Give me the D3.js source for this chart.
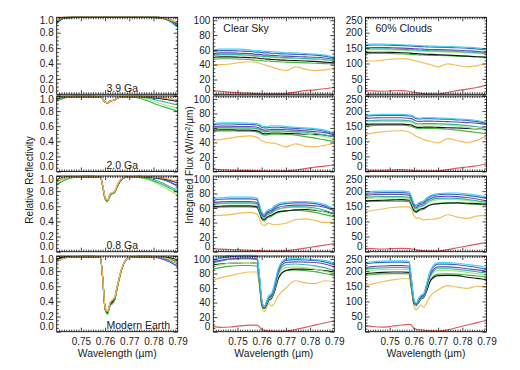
<!DOCTYPE html>
<html>
<head>
<meta charset="utf-8">
<script src="https://cdn.jsdelivr.net/npm/d3@7"></script>
<style>
  body { margin: 0; background: #fff; }
  svg { display: block; font-family: 'Liberation Sans', Arial, sans-serif; }
</style>
</head>
<body>
<script>
// wavelength grid (micron)
const wavelengths = [0.740, 0.743, 0.747, 0.751, 0.755, 0.758, 0.759, 0.760, 0.761, 0.762, 0.763, 0.764, 0.765, 0.767, 0.770, 0.774, 0.778, 0.782, 0.786, 0.790]

// series order: cyan, blue, purple, teal, light green, black, green, orange, red
const seriesNames = ['cyan', 'blue', 'purple', 'teal', 'lightgreen', 'black', 'green', 'orange', 'red']

const ageLabels = ['3.9 Ga', '2.0 Ga', '0.8 Ga', 'Modern Earth']
const columnTitles = ['', 'Clear Sky', '60% Clouds']
const reflTicks = [0, 0.2, 0.4, 0.6, 0.8, 1.0]
const clearTicks = [0, 20, 40, 60, 80, 100]
const cloudTicks = [0, 50, 100, 150, 200, 250]
const wlTicks = [0.75, 0.76, 0.77, 0.78, 0.79]

// relative reflectivity
const refl39 = [
  [0.91, 0.99, 1, 1, 1, 1, 1, 1, 1, 1, 1, 1, 1, 1, 1, 1, 1, 0.995, 0.96, 0.87],
  [0.92, 0.99, 1, 1, 1, 1, 1, 1, 1, 1, 1, 1, 1, 1, 1, 1, 1, 0.995, 0.965, 0.88],
  [0.93, 0.99, 1, 1, 1, 1, 1, 1, 1, 1, 1, 1, 1, 1, 1, 1, 1, 0.995, 0.97, 0.89],
  [0.93, 0.995, 1, 1, 1, 1, 1, 1, 1, 1, 1, 1, 1, 1, 1, 1, 1, 0.995, 0.97, 0.90],
  [0.94, 0.995, 1, 1, 1, 1, 1, 1, 1, 1, 1, 1, 1, 1, 1, 1, 1, 1, 0.975, 0.91],
  [0.94, 0.995, 1, 1, 1, 1, 1, 1, 1, 1, 1, 1, 1, 1, 1, 1, 1, 1, 0.975, 0.91],
  [0.95, 0.995, 1, 1, 1, 1, 1, 1, 1, 1, 1, 1, 1, 1, 1, 1, 1, 1, 0.98, 0.92],
  [0.96, 1, 1, 1, 1, 1, 1, 1, 1, 1, 1, 1, 1, 1, 1, 1, 1, 1, 0.98, 0.93],
  [0.96, 1, 1, 1, 1, 1, 1, 1, 1, 1, 1, 1, 1, 1, 1, 1, 1, 1, 0.98, 0.93]
]
const refl20 = [
  [0.95, 0.98, 0.99, 0.99, 0.99, 0.99, 0.96, 0.92, 0.91, 0.93, 0.94, 0.95, 0.97, 0.99, 0.99, 0.99, 0.98, 0.97, 0.95, 0.92],
  [0.96, 0.98, 0.99, 0.99, 0.99, 0.99, 0.96, 0.92, 0.91, 0.93, 0.94, 0.95, 0.97, 0.99, 0.99, 0.99, 0.985, 0.975, 0.955, 0.93],
  [0.96, 0.985, 0.99, 0.99, 0.99, 0.99, 0.96, 0.92, 0.91, 0.93, 0.94, 0.95, 0.97, 0.99, 0.99, 0.99, 0.99, 0.98, 0.965, 0.94],
  [0.95, 0.98, 0.99, 0.99, 0.99, 0.99, 0.96, 0.92, 0.91, 0.93, 0.94, 0.95, 0.97, 0.99, 0.99, 0.99, 0.97, 0.94, 0.91, 0.88],
  [0.94, 0.975, 0.99, 0.99, 0.99, 0.99, 0.96, 0.92, 0.91, 0.93, 0.94, 0.95, 0.97, 0.99, 0.99, 0.98, 0.95, 0.91, 0.87, 0.84],
  [0.96, 0.985, 0.99, 0.99, 0.99, 0.99, 0.96, 0.92, 0.91, 0.93, 0.94, 0.95, 0.97, 0.99, 0.99, 0.99, 0.985, 0.97, 0.95, 0.93],
  [0.93, 0.97, 0.99, 0.99, 0.99, 0.99, 0.96, 0.92, 0.91, 0.93, 0.94, 0.95, 0.97, 0.99, 0.99, 0.97, 0.93, 0.88, 0.84, 0.80],
  [0.98, 0.99, 0.995, 0.995, 0.995, 0.99, 0.96, 0.92, 0.91, 0.93, 0.94, 0.95, 0.97, 0.99, 0.995, 0.995, 0.99, 0.98, 0.965, 0.94],
  [0.98, 0.99, 0.995, 0.995, 0.995, 0.99, 0.96, 0.92, 0.91, 0.93, 0.94, 0.95, 0.97, 0.99, 0.995, 0.995, 0.99, 0.98, 0.965, 0.94]
]
const refl08 = [
  [0.93, 0.97, 0.99, 0.99, 0.99, 0.99, 0.87, 0.70, 0.67, 0.74, 0.77, 0.79, 0.86, 0.96, 0.99, 0.99, 0.98, 0.96, 0.94, 0.91],
  [0.94, 0.975, 0.99, 0.99, 0.99, 0.99, 0.87, 0.70, 0.67, 0.74, 0.77, 0.79, 0.86, 0.96, 0.99, 0.99, 0.985, 0.97, 0.93, 0.87],
  [0.95, 0.98, 0.99, 0.99, 0.99, 0.99, 0.87, 0.71, 0.67, 0.74, 0.77, 0.79, 0.86, 0.96, 0.99, 0.99, 0.985, 0.97, 0.93, 0.86],
  [0.92, 0.97, 0.99, 0.99, 0.99, 0.99, 0.87, 0.70, 0.67, 0.74, 0.77, 0.79, 0.86, 0.96, 0.99, 0.99, 0.97, 0.93, 0.87, 0.80],
  [0.89, 0.95, 0.98, 0.99, 0.99, 0.99, 0.87, 0.70, 0.67, 0.74, 0.77, 0.79, 0.86, 0.96, 0.99, 0.98, 0.95, 0.89, 0.82, 0.75],
  [0.95, 0.98, 0.99, 0.99, 0.99, 0.99, 0.87, 0.71, 0.67, 0.74, 0.77, 0.79, 0.86, 0.96, 0.99, 0.99, 0.985, 0.975, 0.95, 0.91],
  [0.88, 0.94, 0.98, 0.99, 0.99, 0.99, 0.87, 0.70, 0.66, 0.74, 0.77, 0.79, 0.86, 0.96, 0.99, 0.98, 0.96, 0.91, 0.85, 0.78],
  [0.94, 0.975, 0.99, 0.995, 0.995, 0.99, 0.88, 0.72, 0.68, 0.76, 0.78, 0.80, 0.88, 0.97, 0.99, 0.995, 0.99, 0.98, 0.96, 0.92],
  [0.94, 0.975, 0.99, 0.995, 0.995, 0.99, 0.88, 0.72, 0.68, 0.76, 0.78, 0.80, 0.88, 0.97, 0.99, 0.995, 0.99, 0.98, 0.96, 0.92]
]
const reflModern = [
  [0.95, 0.98, 0.99, 0.99, 0.99, 0.99, 0.71, 0.30, 0.24, 0.35, 0.38, 0.43, 0.58, 0.84, 0.98, 0.99, 0.99, 0.98, 0.94, 0.86],
  [0.96, 0.98, 0.99, 0.99, 0.99, 0.99, 0.71, 0.30, 0.24, 0.35, 0.38, 0.43, 0.58, 0.84, 0.98, 0.99, 0.99, 0.975, 0.93, 0.86],
  [0.95, 0.98, 0.99, 0.99, 0.99, 0.99, 0.71, 0.31, 0.25, 0.36, 0.39, 0.44, 0.59, 0.84, 0.98, 0.99, 0.99, 0.98, 0.95, 0.90],
  [0.94, 0.975, 0.99, 0.99, 0.99, 0.99, 0.71, 0.30, 0.24, 0.35, 0.37, 0.43, 0.58, 0.84, 0.98, 0.99, 0.99, 0.985, 0.96, 0.91],
  [0.93, 0.97, 0.99, 0.99, 0.99, 0.99, 0.71, 0.30, 0.24, 0.35, 0.37, 0.43, 0.58, 0.84, 0.98, 0.99, 0.99, 0.99, 0.97, 0.93],
  [0.96, 0.985, 0.99, 0.99, 0.99, 0.99, 0.71, 0.31, 0.25, 0.36, 0.39, 0.44, 0.59, 0.84, 0.98, 0.99, 0.99, 0.99, 0.98, 0.95],
  [0.92, 0.97, 0.99, 0.99, 0.99, 0.99, 0.71, 0.30, 0.23, 0.34, 0.37, 0.42, 0.57, 0.84, 0.98, 0.99, 0.99, 0.99, 0.97, 0.92],
  [0.92, 0.97, 0.99, 0.995, 0.995, 0.99, 0.72, 0.32, 0.27, 0.38, 0.42, 0.46, 0.60, 0.85, 0.98, 0.995, 0.995, 0.99, 0.96, 0.90],
  [0.92, 0.97, 0.99, 0.995, 0.995, 0.99, 0.72, 0.32, 0.27, 0.38, 0.42, 0.46, 0.60, 0.85, 0.98, 0.995, 0.995, 0.99, 0.96, 0.90]
]

// integrated flux, clear sky
const clear39 = [
  [60, 61, 61, 61, 60, 59, 59, 58.5, 58, 58, 58, 57.5, 57.5, 57, 56, 56, 55, 54.5, 53, 50],
  [58, 59, 59, 58.5, 58, 57, 57, 56.5, 56, 56, 56, 55.5, 55.5, 55, 54.5, 54, 53.5, 53, 51.5, 48.5],
  [55, 56, 56, 55.5, 55, 54, 54, 53.5, 53, 53, 53, 52.5, 52.5, 52, 51.5, 51, 50.5, 50, 49, 47],
  [53, 54, 54, 53.5, 53, 52, 52, 51.5, 51, 51, 51, 50.5, 50.5, 50, 49.5, 49, 48.5, 48, 47, 45],
  [52, 53, 53, 52.5, 52, 51, 51, 50.5, 50, 50, 50, 49.5, 49.5, 49, 48.5, 48, 47.5, 47, 46, 44.5],
  [50, 50.5, 50.5, 50, 49.5, 49, 48.5, 48, 48, 47.5, 47.5, 47, 47, 46.5, 46, 45.5, 45, 44.5, 43.5, 42.5],
  [47, 48, 48, 47.5, 47, 46, 46, 45.5, 45, 45, 45, 44.5, 44.5, 44, 43.5, 43, 42.5, 42, 41.5, 41],
  [40, 40, 41, 43, 44, 43, 42, 41, 40, 39, 38, 37, 36, 34, 32, 37, 34, 32, 33, 35],
  [5, 4, 3, 2, 1.5, 1, 1, 0.5, 0.5, 0.5, 0.5, 0.5, 0.5, 0.5, 1, 3, 5, 6, 7.5, 9.5]
]
const clear20 = [
  [66, 67, 67, 67, 66.5, 66, 65, 63, 62, 62, 62.5, 63, 63, 63, 62, 61, 60, 59, 57, 53],
  [65, 65.5, 65.5, 65, 65, 64, 63, 61, 60, 60, 60.5, 61, 61, 61, 60, 59.5, 58.5, 57.5, 55.5, 52],
  [62, 62.5, 62.5, 62, 62, 61, 60, 58, 57, 57, 57.5, 58, 58, 58, 57.5, 57, 56, 55, 53.5, 50.5],
  [60, 60.5, 60.5, 60, 60, 59, 58, 56, 55, 55, 55.5, 56, 56, 56, 55.5, 55, 54, 52.5, 50.5, 48],
  [59, 59.5, 59.5, 59, 59, 58, 57, 55, 54, 54, 54.5, 55, 55, 55, 54.5, 54, 52, 50, 48, 45.5],
  [57, 57.5, 57.5, 57, 57, 56, 55, 53, 52, 52, 52.5, 53, 53, 53, 52.5, 52, 51.5, 51, 50, 48],
  [55.5, 56, 56, 55.5, 55.5, 54.5, 53.5, 51.5, 50.5, 50.5, 51, 51.5, 51.5, 51.5, 51, 50, 48, 46, 43.5, 41.5],
  [43, 44, 46, 48, 49, 47, 45, 42, 41, 40, 40, 39, 39, 37, 34, 38, 35, 34, 36, 39],
  [3, 2.5, 2, 1.5, 1.5, 1, 1, 1, 0.5, 0.5, 0.5, 0.5, 0.5, 0.5, 1, 2, 4, 6, 7.5, 9]
]
const clear08 = [
  [73, 74, 75, 75, 75, 74, 66, 55, 52, 56, 58, 59, 62, 66, 68, 69, 69, 68, 65, 58],
  [70.5, 72, 72.5, 72.5, 72.5, 71.5, 64, 53, 50, 54, 56, 57, 60, 64, 66, 67, 67, 66, 63, 57],
  [67, 68.5, 69, 69, 69, 68, 61, 51, 48, 52, 54, 55, 58, 61, 63, 64, 64, 63, 61, 56],
  [65, 66.5, 67, 67, 67, 66, 59, 49.5, 46.5, 50.5, 52, 53, 56, 59, 61, 62, 61.5, 60, 57, 52],
  [64, 65.5, 66, 66, 66, 65, 58, 49, 46, 50, 51.5, 52.5, 55, 58, 60, 61, 60, 58, 54.5, 49.5],
  [62, 62.5, 63, 63, 63, 62, 56, 46, 44, 47, 49, 50, 52, 55, 56, 57.5, 58, 57, 55, 52],
  [60, 61, 61.5, 61.5, 61.5, 60.5, 54, 45, 42, 46, 47.5, 48.5, 51, 54, 56, 57, 56, 54, 51, 48],
  [50, 50, 51, 53, 54, 52, 46, 38, 36, 38, 39, 38, 37, 37.5, 39, 44, 45, 43, 40, 41],
  [4, 3.5, 3, 2.5, 2, 1.5, 1.5, 1.5, 1, 1, 1, 1, 1, 1, 1.5, 3, 5, 7, 9, 11]
]
const clearModern = [
  [99, 102, 105, 106, 106, 105, 80, 45, 34, 42, 50, 52, 62, 88, 100, 101, 100, 99, 98, 94],
  [98, 101, 103, 104, 104, 103, 78, 44, 33, 41, 48, 50, 60, 86, 98, 99, 98.5, 98, 96, 92],
  [96, 98, 100, 101, 101, 100, 76, 43, 33, 40, 47, 49, 58, 83, 95, 96, 95.5, 95, 93, 89],
  [95, 97, 99.5, 100, 100, 99, 75, 42, 34, 40, 46, 48, 57, 81, 92, 93, 92, 90.5, 88, 84],
  [90, 92, 94, 95, 95, 94, 72, 41, 33, 39, 45, 47, 55, 78, 88, 89, 88, 86, 83, 80],
  [92, 93, 94, 94.5, 95, 94, 71, 38, 32, 37, 44, 46, 53, 74, 84, 86, 86, 85.5, 84, 82],
  [86, 88, 90, 91, 91, 90, 69, 39, 32, 37, 43, 45, 52, 74, 84, 85, 84, 82.5, 80, 77],
  [71, 74, 77, 80, 82, 82, 63, 34, 27.5, 33, 39, 35, 38, 50, 60, 70, 67, 66, 70, 69],
  [7, 6, 6.5, 8, 9, 9, 7, 3, 2, 1.5, 1, 1, 0.5, 0.5, 1, 3, 6, 9, 12, 15]
]

// integrated flux, 60% clouds
const cloud39 = [
  [162, 163, 163, 162, 161, 160, 159.5, 159, 158.5, 158, 158, 157.5, 157, 156.5, 156, 155, 154, 152.5, 150.5, 147],
  [159, 160, 160, 159, 158, 157, 156.5, 156, 155.5, 155, 155, 154.5, 154, 153.5, 153, 152, 151, 149.5, 147.5, 144],
  [151, 152, 152, 151, 150, 149, 148.5, 148, 147.5, 147, 147, 146.5, 146, 145.5, 145, 144, 143, 141.5, 139.5, 136],
  [147, 148, 148, 147, 146, 145, 144.5, 144, 143.5, 143, 143, 142.5, 142, 141.5, 141, 140, 139, 137, 135, 132],
  [144, 145, 145, 144, 143, 142, 141.5, 141, 140.5, 140, 140, 139.5, 139, 138.5, 138, 137, 136, 134.5, 132.5, 130],
  [136, 136.5, 136.5, 136, 135, 134, 133, 132.5, 132, 131.5, 131, 130.5, 130, 129.5, 128.5, 127, 125.5, 124, 122, 120],
  [132, 133, 133, 132, 131, 130, 129.5, 129, 128.5, 128, 128, 127.5, 127, 126.5, 126, 125, 124, 123, 122, 121],
  [108, 108, 111, 114, 116, 114, 112, 110, 108, 106, 104, 102, 100, 96, 89, 99, 94, 89, 93, 100],
  [13, 11, 10, 11, 12, 10, 8, 6, 5, 4, 3, 2, 1.5, 1, 1, 6, 12, 17, 22, 30]
]
const cloud20 = [
  [187, 188, 189, 189, 189, 187, 186, 182, 178, 177, 177, 178, 178, 178, 177, 176, 174, 172, 169, 163],
  [184, 185, 186, 186, 186, 184, 183, 179, 175, 174, 174, 175, 175, 175, 174, 173, 171, 169, 166, 160],
  [176, 177, 178, 178, 178, 176, 175, 171, 167, 166, 166, 167, 167, 167, 166, 165, 164, 162, 160, 156],
  [168, 169, 170, 170, 170, 168, 167, 163, 159, 158, 158, 159, 159, 159, 158, 157, 155, 152, 148, 143],
  [164, 165, 166, 166, 166, 164, 163, 159, 155, 154, 154, 155, 155, 155, 154, 153, 150, 146, 141, 136],
  [156, 157, 157, 157, 157, 155, 154, 150, 147, 146, 146, 147, 147, 147, 146, 145, 144, 143, 141, 138],
  [151, 152, 153, 153, 153, 151, 150, 146, 143, 142, 142, 143, 143, 143, 142, 140, 137, 133, 129, 125],
  [123, 127, 131, 134, 135, 131, 127, 121, 116, 113, 110, 106, 103, 100, 95, 109, 102, 96, 103, 118],
  [5, 4, 4, 5, 6, 5, 4, 3, 2.5, 2, 1.5, 1, 1, 1, 2, 6, 11, 15, 19, 25]
]
const cloud08 = [
  [198, 199, 200, 200, 200, 198, 182, 160, 154, 162, 165, 167, 175, 186, 192, 194, 194, 191, 187, 181],
  [193, 194, 195, 195, 195, 193, 178, 157, 151, 158, 161, 163, 171, 182, 188, 190, 189, 186, 182, 176],
  [187, 188, 189, 189, 189, 187, 172, 152, 146, 153, 156, 158, 166, 176, 182, 183, 182, 179, 174, 168],
  [180, 181, 182, 182, 182, 180, 166, 147, 141, 148, 151, 153, 160, 170, 176, 177, 176, 173, 168, 163],
  [176, 177, 178, 178, 178, 176, 162, 144, 138, 145, 148, 150, 157, 166, 172, 173, 172, 169, 164, 160],
  [168, 169, 170, 171, 172, 170, 156, 137, 132, 138, 142, 143, 148, 155, 158, 160, 161, 160, 159, 157],
  [165, 166, 167, 167, 167, 165, 152, 134, 129, 135, 138, 140, 146, 155, 160, 162, 161, 158, 156, 154],
  [132, 136, 141, 146, 148, 148, 140, 120, 110, 112, 108, 105, 106, 107, 110, 122, 114, 110, 118, 121],
  [11, 10, 9, 10, 11, 10, 9, 8, 6, 5, 4, 3, 2, 2, 2, 7, 13, 19, 25, 30]
]
const cloudModern = [
  [228, 231, 233, 234, 234, 233, 175, 108, 94, 110, 121, 125, 150, 205, 228, 228, 226, 222, 218, 212],
  [224, 227, 229, 230, 230, 229, 172, 106, 93, 108, 119, 123, 147, 201, 223, 223, 221, 217, 212, 205],
  [212, 215, 217, 218, 218, 217, 163, 102, 91, 105, 115, 119, 142, 193, 214, 214, 212, 208, 204, 199],
  [206, 209, 211, 212, 212, 211, 159, 100, 90, 103, 113, 117, 139, 188, 208, 208, 206, 202, 198, 194],
  [200, 203, 205, 206, 206, 205, 155, 98, 89, 101, 111, 115, 136, 183, 202, 202, 200, 196, 192, 188],
  [192, 194, 196, 197, 197, 196, 148, 94, 88, 98, 110, 113, 130, 170, 185, 186, 185, 180, 176, 172],
  [186, 189, 191, 192, 192, 191, 144, 93, 87, 97, 108, 112, 129, 172, 190, 191, 190, 187, 184, 182],
  [152, 158, 165, 171, 175, 175, 135, 85, 72, 80, 88, 80, 92, 120, 138, 152, 147, 143, 150, 147],
  [20, 17, 15, 18, 22, 24, 22, 10, 8, 7, 6, 5, 4, 3, 2, 6, 14, 22, 30, 37]
]

const lineColors = ['#46d2ee', '#2f66d0', '#6a48a6', '#35b5a5', '#a6e67e', '#161616', '#45b345', '#f2bd58', '#e05a5a']

const colX = [56.7, 213.3, 365.5]
const panelW = 121
const rowTop = [17.3, 96, 176, 256]
const rowBottom = [94.3, 171.5, 251.7, 331.7]

const columns = [
  { rows: [refl39, refl20, refl08, reflModern], domain: [0, 1], ticks: reflTicks, minorStep: 0.05, fmt: d3.format('.1f'), order: [0, 1, 2, 3, 4, 5, 6, 8, 7] },
  { rows: [clear39, clear20, clear08, clearModern], domain: [0, 104], ticks: clearTicks, minorStep: 5, fmt: d3.format('d'), order: [8, 7, 6, 5, 4, 3, 2, 1, 0] },
  { rows: [cloud39, cloud20, cloud08, cloudModern], domain: [0, 250], ticks: cloudTicks, minorStep: 10, fmt: d3.format('d'), order: [8, 7, 6, 5, 4, 3, 2, 1, 0] }
]

const svg = d3.select('body').append('svg')
    .attr('width', 520)
    .attr('height', 370)

svg.append('rect').attr('width', 520).attr('height', 370).attr('fill', '#fff')
const defs = svg.append('defs')

const wlMinor = d3.range(741, 790).filter(v => v % 10 != 0).map(v => v / 1000)

columns.forEach((col, c) => {
    const x = d3.scaleLinear().domain([0.74, 0.79]).range([colX[c], colX[c] + panelW])
    const minor = d3.range(col.domain[0], col.domain[1] + 1e-9, col.minorStep)
        .filter(v => !col.ticks.some(t => Math.abs(t - v) < 1e-9))

    col.rows.forEach((series, r) => {
        const y = d3.scaleLinear().domain(col.domain).range([rowBottom[r], rowTop[r]])
        const id = 'clip-' + c + '-' + r
        defs.append('clipPath').attr('id', id)
            .append('rect')
            .attr('x', colX[c] - 1)
            .attr('y', rowTop[r] - 1.2)
            .attr('width', panelW + 2)
            .attr('height', rowBottom[r] - rowTop[r] + 2.4)

        const line = d3.line()
            .x((d, i) => x(wavelengths[i]))
            .y(d => y(d))
            .curve(d3.curveMonotoneX)

        svg.append('g')
            .attr('clip-path', 'url(#' + id + ')')
            .selectAll('path')
            .data(col.order)
            .enter()
            .append('path')
            .attr('d', k => line(series[k]))
            .attr('fill', 'none')
            .attr('stroke', k => lineColors[k])
            .attr('stroke-width', 1.15)
            .attr('stroke-linejoin', 'round')

        // box
        svg.append('rect')
            .attr('x', colX[c])
            .attr('y', rowTop[r])
            .attr('width', panelW)
            .attr('height', rowBottom[r] - rowTop[r])
            .attr('fill', 'none')
            .attr('stroke', '#111')
            .attr('stroke-width', 0.9)

        const tickStyle = g => {
            g.select('.domain').remove()
            g.selectAll('line').attr('stroke', '#111').attr('stroke-width', 0.8)
            g.selectAll('text').attr('fill', '#1a1a1a').style('font-size', '10px')
        }

        // y axis left with labels, end labels pulled inside the box
        svg.append('g')
            .attr('transform', `translate(${colX[c]},0)`)
            .call(d3.axisLeft(y).tickValues(col.ticks).tickSize(-4).tickPadding(3).tickFormat(col.fmt))
            .call(tickStyle)
            .call(g => g.selectAll('.tick text')
                .attr('y', d => {
                    const p = y(d)
                    const q = Math.min(Math.max(p, rowTop[r] + 3), rowBottom[r] - 5)
                    return q - p
                }))
        svg.append('g')
            .attr('transform', `translate(${colX[c]},0)`)
            .call(d3.axisLeft(y).tickValues(minor).tickSize(-2).tickFormat(''))
            .call(tickStyle)
        // right side ticks
        svg.append('g')
            .attr('transform', `translate(${colX[c] + panelW},0)`)
            .call(d3.axisRight(y).tickValues(col.ticks).tickSize(-4).tickFormat(''))
            .call(tickStyle)
        svg.append('g')
            .attr('transform', `translate(${colX[c] + panelW},0)`)
            .call(d3.axisRight(y).tickValues(minor).tickSize(-2).tickFormat(''))
            .call(tickStyle)

        // x ticks bottom and top
        svg.append('g')
            .attr('transform', `translate(0,${rowBottom[r]})`)
            .call(d3.axisBottom(x).tickValues(wlTicks.slice(0, 4)).tickSize(-4).tickFormat(''))
            .call(tickStyle)
        svg.append('g')
            .attr('transform', `translate(0,${rowBottom[r]})`)
            .call(d3.axisBottom(x).tickValues(wlMinor).tickSize(-2).tickFormat(''))
            .call(tickStyle)
        svg.append('g')
            .attr('transform', `translate(0,${rowTop[r]})`)
            .call(d3.axisTop(x).tickValues(wlTicks.slice(0, 4)).tickSize(-4).tickFormat(''))
            .call(tickStyle)
        svg.append('g')
            .attr('transform', `translate(0,${rowTop[r]})`)
            .call(d3.axisTop(x).tickValues(wlMinor).tickSize(-2).tickFormat(''))
            .call(tickStyle)

        if (r == 3) {
            svg.append('g')
                .attr('transform', `translate(0,${rowBottom[r]})`)
                .call(d3.axisBottom(x).tickValues(wlTicks).tickSize(0).tickPadding(6.7).tickFormat(d3.format('.2f')))
                .call(tickStyle)
        }

        if (c == 0) {
            svg.append('text')
                .attr('x', 106.5)
                .attr('y', rowBottom[r] - 2.8)
                .attr('fill', '#1a1a1a')
                .style('font-size', '10.5px')
                .text(ageLabels[r])
        }
    })

    if (columnTitles[c]) {
        svg.append('text')
            .attr('x', colX[c] + 10)
            .attr('y', 31.5)
            .attr('fill', '#1a1a1a')
            .style('font-size', '10.5px')
            .text(columnTitles[c])
    }

    svg.append('text')
        .attr('x', colX[c] + panelW / 2)
        .attr('y', 356.5)
        .attr('text-anchor', 'middle')
        .attr('fill', '#1a1a1a')
        .style('font-size', '10.4px')
        .text('Wavelength (\u00b5m)')
})

svg.append('text')
    .attr('transform', 'translate(33,180) rotate(-90)')
    .attr('text-anchor', 'middle')
    .attr('fill', '#1a1a1a')
    .style('font-size', '10px')
    .text('Relative Reflectivity')

const fluxTitle = svg.append('text')
    .attr('transform', 'translate(193,165) rotate(-90)')
    .attr('text-anchor', 'middle')
    .attr('fill', '#1a1a1a')
    .style('font-size', '10px')
fluxTitle.append('tspan').text('Integrated Flux (W/m')
fluxTitle.append('tspan').attr('dy', -3.5).style('font-size', '7px').text('2')
fluxTitle.append('tspan').attr('dy', 3.5).text('/\u00b5m)')
</script>
</body>
</html>
